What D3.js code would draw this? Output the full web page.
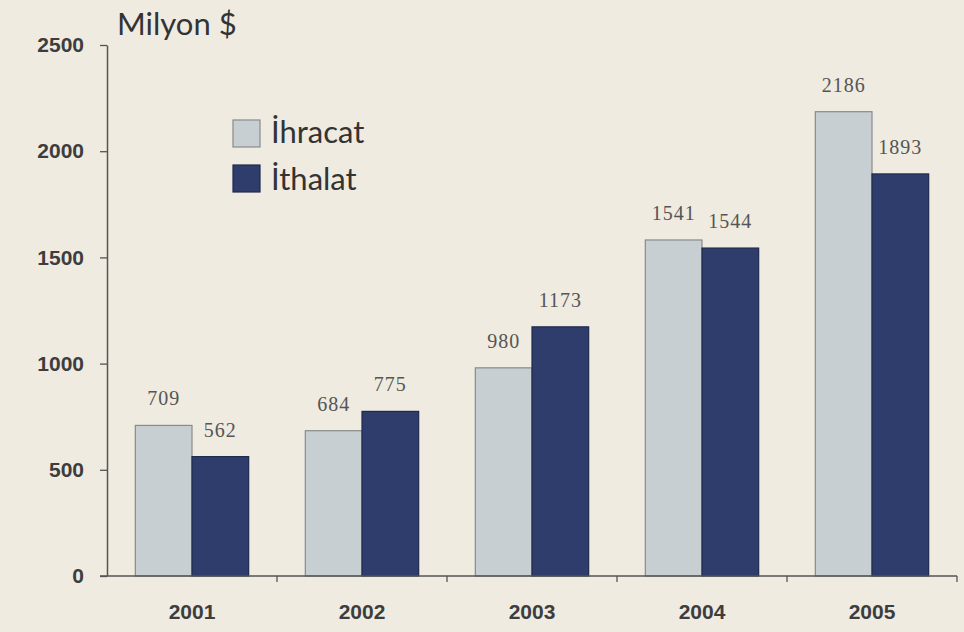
<!DOCTYPE html>
<html>
<head>
<meta charset="utf-8">
<script src="https://cdn.jsdelivr.net/npm/d3@7"></script>
<style>
  html, body { margin: 0; padding: 0; background: #efebe0; }
  svg { display: block; }
</style>
</head>
<body>
<svg id="chart" width="964" height="632"></svg>
<script>
const years = ["2001", "2002", "2003", "2004", "2005"];
const seriesNames = ["İhracat", "İthalat"];
const ihracat = [709, 684, 980, 1582, 2186];
const ithalat = [562, 775, 1173, 1544, 1893];
const ihracatLabels = ["709", "684", "980", "1541", "2186"];
const ithalatLabels = ["562", "775", "1173", "1544", "1893"];
const yTicks = [0, 500, 1000, 1500, 2000, 2500];
const yUnit = "Milyon $";

const colors = { "İhracat": "#c8cfd2", "İthalat": "#2f3d6c" };
const strokes = { "İhracat": "#878b8b", "İthalat": "#1f2a4c" };

const svg = d3.select("#chart");
svg.append("rect").attr("width", 964).attr("height", 632).attr("fill", "#efebe0");

const x = d3.scaleBand().domain(years).range([107, 957]).padding(0);
const xs = d3.scaleBand().domain(seriesNames).range([0, x.bandwidth()]).paddingInner(0).paddingOuter(0.5);
const y = d3.scaleLinear().domain([0, 2500]).range([576, 45]);

const data = years.map((yr, i) => ({
  year: yr,
  vals: [
    { s: "İhracat", v: ihracat[i], label: ihracatLabels[i] },
    { s: "İthalat", v: ithalat[i], label: ithalatLabels[i] }
  ]
}));

// bars
const g = svg.append("g");
const groups = g.selectAll("g.yr").data(data).join("g")
  .attr("transform", d => `translate(${x(d.year)},0)`);
groups.selectAll("rect").data(d => d.vals).join("rect")
  .attr("x", d => xs(d.s))
  .attr("y", d => y(d.v))
  .attr("width", xs.bandwidth())
  .attr("height", d => y(0) - y(d.v))
  .attr("fill", d => colors[d.s])
  .attr("stroke", d => strokes[d.s])
  .attr("stroke-width", 1.2);
groups.selectAll("text").data(d => d.vals).join("text")
  .attr("x", d => xs(d.s) + xs.bandwidth() / 2)
  .attr("y", d => y(d.v) - 20)
  .attr("text-anchor", "middle")
  .attr("font-family", "Liberation Serif, serif")
  .attr("font-size", 20)
  .attr("letter-spacing", 1)
  .attr("fill", "#555")
  .text(d => d.label);

// y axis
const yAxis = d3.axisLeft(y).tickValues(yTicks).tickFormat(d3.format("d"))
  .tickSize(7).tickPadding(16).tickSizeOuter(0);
const ya = svg.append("g").attr("transform", "translate(107,0)").call(yAxis);
ya.select(".domain").attr("stroke", "#555").attr("stroke-width", 1.5);
ya.selectAll(".tick line").attr("stroke", "#555").attr("stroke-width", 1.3);
ya.selectAll(".tick text")
  .attr("font-family", "Liberation Sans, Arial, sans-serif")
  .attr("font-weight", "bold").attr("font-size", 21).attr("fill", "#3d3d3d");

// x axis
const xAxis = d3.axisBottom(x).tickSize(0).tickPadding(28);
const xa = svg.append("g").attr("transform", `translate(0,${y(0)})`).call(xAxis);
xa.select(".domain").remove();
xa.append("line").attr("x1", 100).attr("x2", 957).attr("y1", 0).attr("y2", 0)
  .attr("stroke", "#555").attr("stroke-width", 1.5);
xa.selectAll("line.sep").data(years.slice(1).concat(["end"])).join("line").attr("class", "sep")
  .attr("x1", d => d === "end" ? 957 : x(d)).attr("x2", d => d === "end" ? 957 : x(d))
  .attr("y1", 0).attr("y2", 6).attr("stroke", "#555").attr("stroke-width", 1.3);
xa.selectAll(".tick text")
  .attr("font-family", "Liberation Sans, Arial, sans-serif")
  .attr("font-weight", "bold").attr("font-size", 21).attr("fill", "#3d3d3d");

// unit label
svg.append("text").attr("x", 117).attr("y", 35)
  .attr("font-family", "Lato, sans-serif").attr("font-size", 31).attr("fill", "#333")
  .text(yUnit);

// legend
const leg = svg.append("g");
const legBase = [143, 190];
seriesNames.forEach((s, i) => {
  const ly = 120 + i * 45;
  leg.append("rect").attr("x", 233).attr("y", ly).attr("width", 27).attr("height", 27)
    .attr("fill", colors[s]).attr("stroke", strokes[s]).attr("stroke-width", 1.2);
  leg.append("text").attr("x", 271).attr("y", legBase[i])
    .attr("font-family", "Lato, sans-serif").attr("font-size", 31).attr("fill", "#333")
    .text(s);
});
</script>
</body>
</html>
